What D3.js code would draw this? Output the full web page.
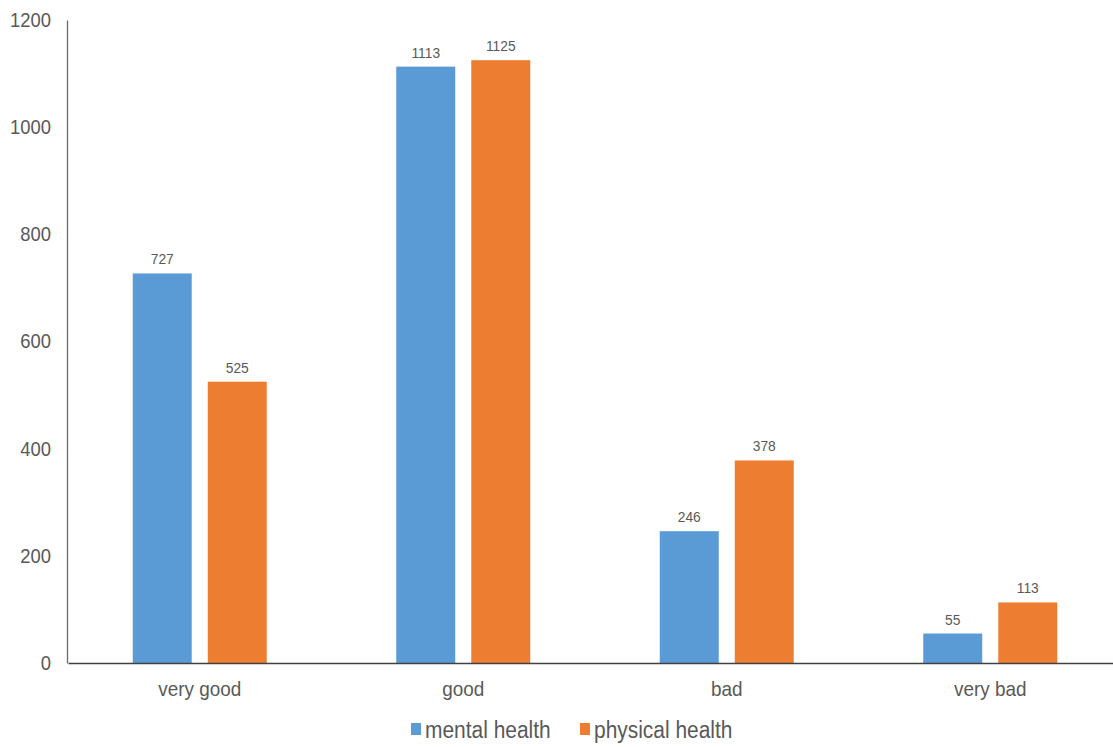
<!DOCTYPE html>
<html>
<head>
<meta charset="utf-8">
<script src="https://cdn.jsdelivr.net/npm/d3@7"></script>
<style>
  html, body { margin: 0; padding: 0; background: #fff; }
  svg text { font-family: "Liberation Sans", Arial, sans-serif; fill: #595959; }
</style>
</head>
<body>
<svg id="chart" width="1113" height="747"></svg>
<script>
// Self-rated health: number of respondents per rating
const categories = ["very good", "good", "bad", "very bad"];
const seriesNames = ["mental health", "physical health"];
const mentalHealth = [727, 1113, 246, 55];
const physicalHealth = [525, 1125, 378, 113];
const yTicks = [0, 200, 400, 600, 800, 1000, 1200];
const colors = ["#5B9BD5", "#ED7D31"];

const seriesValues = [mentalHealth, physicalHealth];

const svg = d3.select("#chart");
const plot = { left: 67, right: 1121, top: 20, bottom: 663 };

// Squeeze text horizontally to get a narrow sans look
function condense(selection, factor) {
  selection.each(function () {
    const w = this.getComputedTextLength();
    d3.select(this).attr("textLength", w * factor).attr("lengthAdjust", "spacingAndGlyphs");
  });
}

const y = d3.scaleLinear().domain([0, 1200]).range([plot.bottom, plot.top]);
const x0 = d3.scaleBand().domain(categories).range([plot.left + 1, plot.right + 1]).padding(0);
const groupWidth = 134;
const x1 = d3.scaleBand().domain(seriesNames)
  .range([(x0.bandwidth() - groupWidth) / 2, (x0.bandwidth() + groupWidth) / 2])
  .paddingInner(0.2138).paddingOuter(0);

// Y axis: labels only, with a plain vertical line
const yAxis = svg.append("g")
  .attr("transform", `translate(${plot.left},0)`)
  .call(d3.axisLeft(y).tickValues(yTicks).tickSize(0).tickPadding(16).tickFormat(d3.format("d")));
yAxis.select(".domain").attr("stroke", "#6b6b6b").attr("stroke-width", 1.3);
yAxis.selectAll("text").attr("font-size", 20).style("fill", "#595959").call(condense, 0.92);

// Bars
categories.forEach((cat, i) => {
  const g = svg.append("g").attr("transform", `translate(${x0(cat)},0)`);
  seriesNames.forEach((s, j) => {
    const v = seriesValues[j][i];
    g.append("rect")
      .attr("x", x1(s))
      .attr("y", y(v))
      .attr("width", x1.bandwidth())
      .attr("height", y(0) - y(v))
      .attr("fill", colors[j]);
    g.append("text")
      .attr("x", x1(s) + x1.bandwidth() / 2)
      .attr("y", y(v) - 9)
      .attr("text-anchor", "middle")
      .attr("font-size", 15)
      .text(v)
      .call(condense, 0.92);
  });
});

// X axis baseline and category labels
const xAxis = svg.append("g")
  .attr("transform", `translate(0,${plot.bottom})`)
  .call(d3.axisBottom(x0).tickSize(0).tickPadding(18));
xAxis.select(".domain").attr("stroke", "#404040").attr("stroke-width", 1.5);
xAxis.selectAll("text").attr("font-size", 21).style("fill", "#595959").call(condense, 0.9);

// Legend
const legendItems = [
  { name: seriesNames[0], color: colors[0], x: 411 },
  { name: seriesNames[1], color: colors[1], x: 580 }
];
const legend = svg.append("g").attr("transform", "translate(0,730)");
legendItems.forEach(item => {
  legend.append("rect")
    .attr("x", item.x).attr("y", -7)
    .attr("width", 10).attr("height", 12)
    .attr("fill", item.color);
  legend.append("text")
    .attr("x", item.x + 14).attr("y", 0)
    .attr("dy", "0.35em")
    .attr("font-size", 23)
    .text(item.name)
    .call(condense, 0.91);
});
</script>
</body>
</html>
